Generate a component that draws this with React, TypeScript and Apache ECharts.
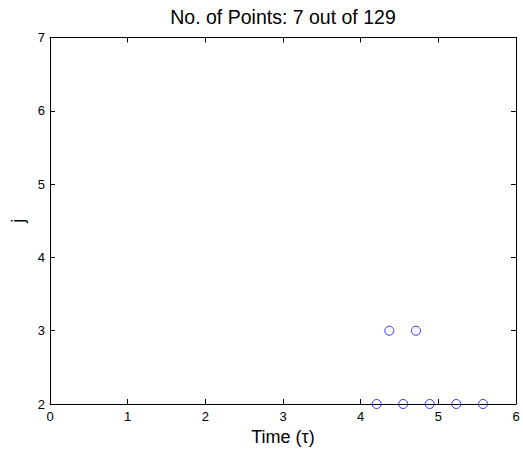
import React, { useEffect, useRef } from "react";
import * as echarts from "echarts";

const titleText = "No. of Points: 7 out of 129";
const xName = "Time (τ)";
const yName = "j";
const xRange = [0, 6];
const yRange = [2, 7];
const timeValues = [4.206, 4.369, 4.547, 4.712, 4.889, 5.231, 5.575];
const jValues = [2, 3, 2, 3, 2, 2, 2];

const FONT = "'Liberation Sans', Arial, Helvetica, sans-serif";

export default function App() {
  const ref = useRef<HTMLDivElement>(null);
  useEffect(() => {
    if (!ref.current) return;
    const chart = echarts.init(ref.current, null, { renderer: "svg" });
    const data = timeValues.map((t, i) => [t, jValues[i]]);
    const axisCommon = {
      axisLine: { show: true, onZero: false, lineStyle: { color: "#000", width: 1 } },
      axisTick: { show: true, inside: true, length: 5, lineStyle: { color: "#000", width: 1 } },
      splitLine: { show: false },
      interval: 1,
    };
    chart.setOption({
      animation: false,
      backgroundColor: "#fff",
      graphic: [
        {
          type: "text",
          x: 283,
          y: 7,
          style: {
            text: titleText,
            fontFamily: FONT,
            fontSize: 19.5,
            fill: "#000",
            align: "center",
            verticalAlign: "top",
          },
        },
      ],
      grid: { left: 50, right: 7, top: 37.5, bottom: 47, containLabel: false },
      xAxis: [
        {
          type: "value",
          min: xRange[0],
          max: xRange[1],
          ...axisCommon,
          name: xName,
          nameLocation: "middle",
          nameGap: 20,
          nameTextStyle: { fontFamily: FONT, fontSize: 18, color: "#000" },
          axisLabel: { fontFamily: FONT, fontSize: 13, color: "#000", margin: 6 },
        },
        {
          type: "value",
          position: "top",
          min: xRange[0],
          max: xRange[1],
          ...axisCommon,
          axisLabel: { show: false },
        },
      ],
      yAxis: [
        {
          type: "value",
          min: yRange[0],
          max: yRange[1],
          ...axisCommon,
          name: yName,
          nameLocation: "middle",
          nameGap: 20,
          nameTextStyle: { fontFamily: FONT, fontSize: 18, color: "#000" },
          axisLabel: { fontFamily: FONT, fontSize: 13, color: "#000", margin: 5 },
        },
        {
          type: "value",
          position: "right",
          min: yRange[0],
          max: yRange[1],
          ...axisCommon,
          axisLabel: { show: false },
        },
      ],
      series: [
        {
          type: "scatter",
          xAxisIndex: 0,
          yAxisIndex: 0,
          data,
          symbol: "circle",
          symbolSize: 9,
          clip: false,
          itemStyle: { color: "rgba(0,0,0,0)", borderColor: "#0000ff", borderWidth: 1 },
        },
      ],
    });
    return () => chart.dispose();
  }, []);
  return (
    <div
      ref={ref}
      style={{ position: "fixed", left: 0, top: 0, width: 523, height: 451 }}
    />
  );
}
